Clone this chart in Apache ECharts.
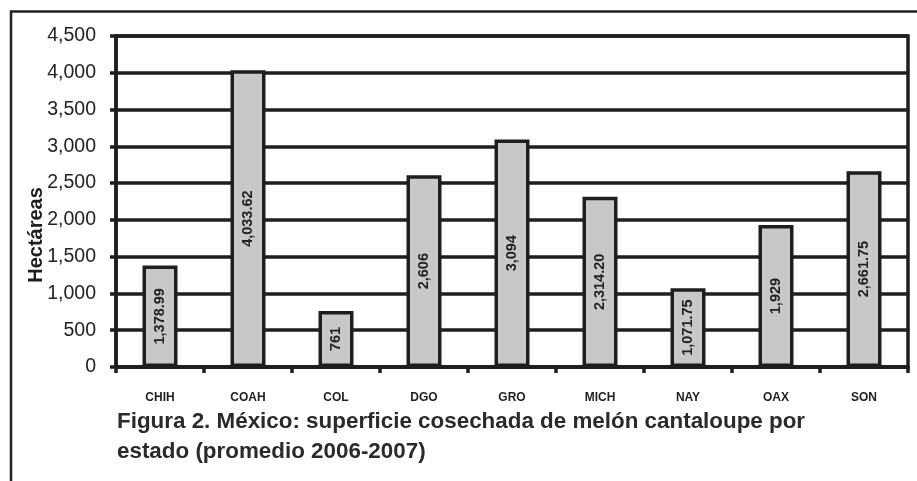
<!DOCTYPE html>
<html>
<head>
<meta charset="utf-8">
<script src="https://cdn.jsdelivr.net/npm/echarts@6/dist/echarts.min.js"></script>
<style>
  html, body { margin: 0; padding: 0; background: #fff; }
  #chart { width: 917px; height: 481px; }
</style>
</head>
<body>
<div id="chart"></div>
<script>
// estados y superficie cosechada (ha)
const states = ["CHIH", "COAH", "COL", "DGO", "GRO", "MICH", "NAY", "OAX", "SON"];
const hectares = [1378.99, 4033.62, 761, 2606, 3094, 2314.20, 1071.75, 1929, 2661.75];
const barLabels = ["1,378.99", "4,033.62", "761", "2,606", "3,094", "2,314.20", "1,071.75", "1,929", "2,661.75"];
const yTicks = [0, 500, 1000, 1500, 2000, 2500, 3000, 3500, 4000, 4500];

const font = "Arial, 'Liberation Sans', sans-serif";
const ink = "#1e1e1e";

var chart = echarts.init(document.getElementById("chart"));

chart.setOption({
  animation: false,
  backgroundColor: "#fff",
  title: {
    text: "Figura 2. México: superficie cosechada de melón cantaloupe por\nestado (promedio 2006-2007)",
    left: 117,
    top: 407,
    padding: 0,
    textStyle: { fontFamily: font, fontSize: 22.4, fontWeight: "bold", color: "#2a2a2a", lineHeight: 30 }
  },
  grid: {
    left: 116, right: 9, top: 36, bottom: 114,
    show: true, borderColor: ink, borderWidth: 3.5
  },
  xAxis: {
    type: "category",
    data: states,
    axisLine: { lineStyle: { color: ink, width: 3.5 } },
    axisTick: { show: true, length: 6, lineStyle: { color: ink, width: 3.5 } },
    axisLabel: { fontFamily: font, fontSize: 12, fontWeight: "bold", color: ink, margin: 25 }
  },
  yAxis: {
    type: "value",
    min: yTicks[0],
    max: yTicks[yTicks.length - 1],
    interval: 500,
    axisLine: { show: true, lineStyle: { color: ink, width: 3.5 } },
    axisTick: { show: true, length: 6, lineStyle: { color: ink, width: 3.5 } },
    splitLine: { lineStyle: { color: ink, width: 3.5 } },
    axisLabel: {
      fontFamily: font, fontSize: 19.5, color: "#222", margin: 20,
      formatter: v => v.toLocaleString("en-US")
    }
  },
  graphic: [
    {
      type: "polyline",
      shape: { points: [[11, 481], [11, 11.5], [917, 11.5]] },
      style: { stroke: "#222", lineWidth: 2.5, fill: null },
      silent: true
    },
    {
      type: "text",
      x: 36, y: 235, rotation: Math.PI / 2,
      style: {
        text: "Hectáreas", fontFamily: font, fontSize: 20, fontWeight: "bold",
        fill: ink, align: "center", verticalAlign: "middle"
      }
    }
  ],
  series: [{
    type: "bar",
    data: hectares,
    barWidth: 35,
    itemStyle: { color: "#c8c8ca", borderColor: ink, borderWidth: 3.5 },
    label: {
      show: true,
      position: "inside",
      rotate: 90,
      fontFamily: font, fontSize: 14.5, fontWeight: "bold", color: "#222",
      formatter: p => barLabels[p.dataIndex]
    }
  }]
});
</script>
</body>
</html>
